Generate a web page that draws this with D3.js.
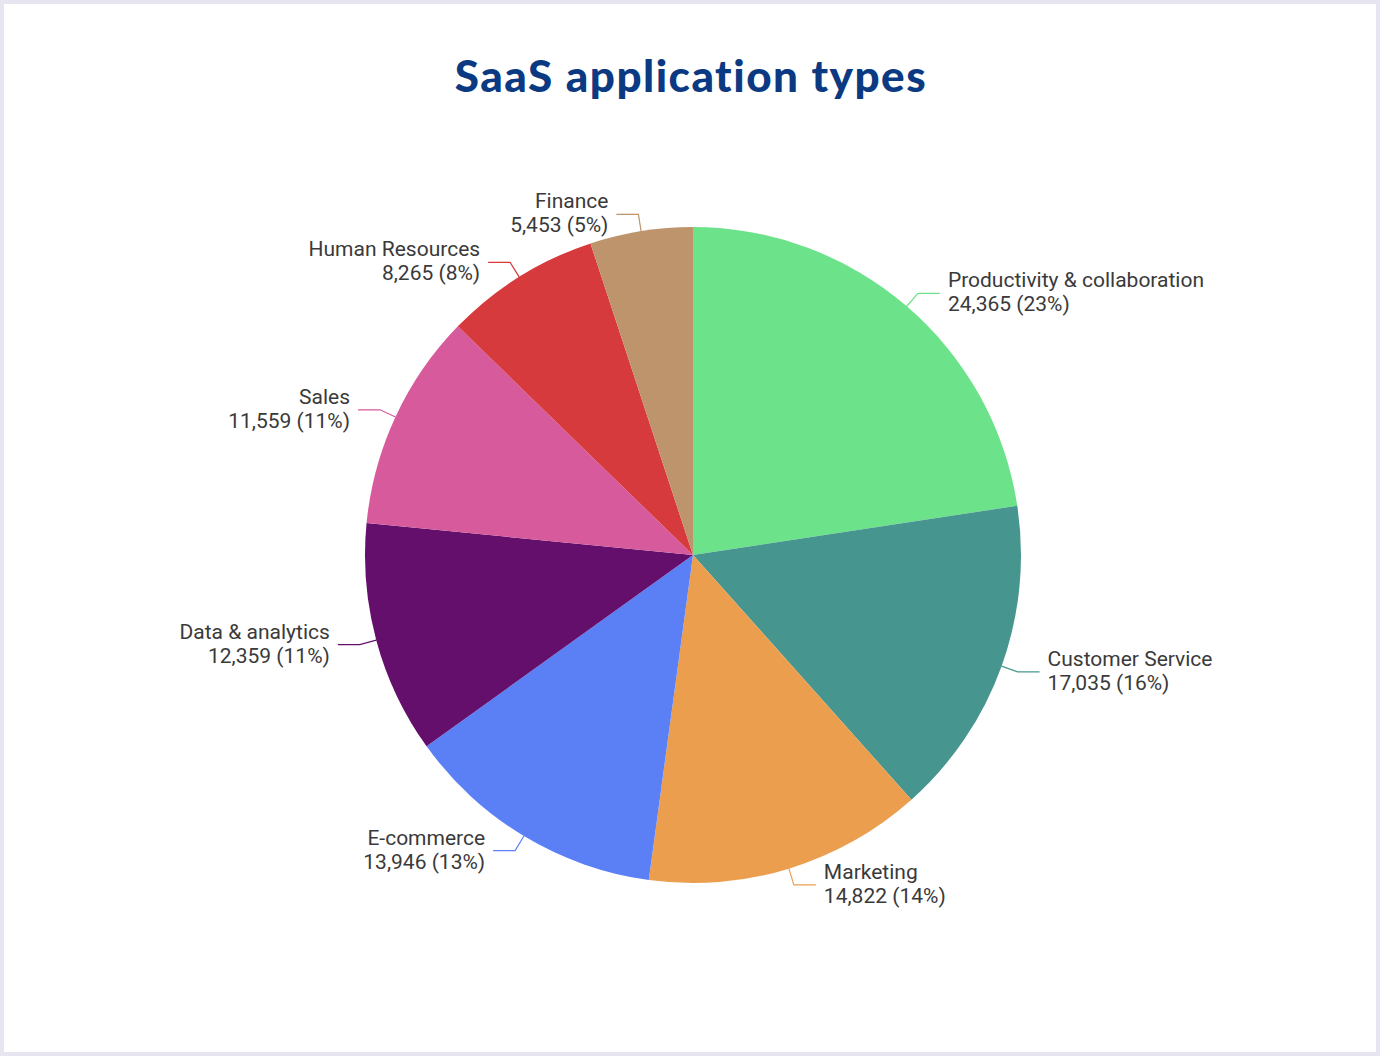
<!DOCTYPE html>
<html>
<head>
<meta charset="utf-8">
<script src="https://cdn.jsdelivr.net/npm/d3@7"></script>
<style>
    html, body { margin: 0; padding: 0; background: #ffffff; }
    #target {
        width: 1380px;
        height: 1056px;
        box-sizing: border-box;
        border: 4px solid #e6e5f0;
        background: #ffffff;
    }
    svg { display: block; }
</style>
</head>
<body>
<div id="target"></div>
<script>
const categories = [
    'Productivity & collaboration',
    'Customer Service',
    'Marketing',
    'E-commerce',
    'Data & analytics',
    'Sales',
    'Human Resources',
    'Finance'
]
const values = [24365, 17035, 14822, 13946, 12359, 11559, 8265, 5453]
const sliceColors = ['#6ce38a', '#46968f', '#eb9f4e', '#5b7ff5', '#650f6d', '#d65a9c', '#d63a3c', '#bd946b']

const colors = {
    title: '#0b3a82',
    text: '#3a3a3a'
}

const width = 1372
const height = 1048
const cx = 689
const cy = 551
const radius = 328

const pieData = categories.map((name, i) => ({ name, value: values[i], color: sliceColors[i] }))
const total = d3.sum(values)
const formatNumber = d3.format(',')

const svg = d3.select('#target').append('svg')
    .attr('width', width)
    .attr('height', height)

//Title
svg.append('text')
    .attr('x', width / 2 + 1)
    .attr('y', 88)
    .attr('text-anchor', 'middle')
    .attr('font-family', 'Lato, "Open Sans", sans-serif')
    .attr('font-weight', 900)
    .attr('font-size', 44)
    .attr('letter-spacing', 1.5)
    .attr('fill', colors.title)
    .text('SaaS application types')

//Pie
const pie = d3.pie()
    .sort(null)
    .value(d => d.value)

const arc = d3.arc()
    .innerRadius(0)
    .outerRadius(radius)

const pieChart = svg.append('g')
    .attr('transform', `translate(${cx},${cy})`)

const arcs = pie(pieData)

pieChart.selectAll('path.slice')
    .data(arcs)
    .enter()
    .append('path')
    .attr('class', 'slice')
    .attr('d', arc)
    .attr('fill', d => d.data.color)

//Leader lines
const edgeArc = d3.arc().innerRadius(radius).outerRadius(radius)
const elbowArc = d3.arc().innerRadius(radius + 17).outerRadius(radius + 17)
const isRight = d => (d.startAngle + d.endAngle) / 2 < Math.PI

pieChart.selectAll('polyline')
    .data(arcs)
    .enter()
    .append('polyline')
    .attr('points', d => {
        const a = edgeArc.centroid(d)
        const b = elbowArc.centroid(d)
        const c = [b[0] + (isRight(d) ? 22 : -22), b[1]]
        return [a, b, c].map(p => p.join(',')).join(' ')
    })
    .attr('fill', 'none')
    .attr('stroke', d => d.data.color)
    .attr('stroke-width', 1.2)

//Labels
const labels = pieChart.selectAll('text.label')
    .data(arcs)
    .enter()
    .append('text')
    .attr('class', 'label')
    .attr('font-family', 'Roboto, sans-serif')
    .attr('font-size', 21)
    .attr('fill', colors.text)
    .attr('text-anchor', d => isRight(d) ? 'start' : 'end')
    .attr('transform', d => {
        const b = elbowArc.centroid(d)
        return `translate(${b[0] + (isRight(d) ? 30 : -30)},${b[1]})`
    })

labels.append('tspan')
    .attr('x', 0)
    .attr('y', -6)
    .text(d => d.data.name)

labels.append('tspan')
    .attr('x', 0)
    .attr('y', 18)
    .text(d => `${formatNumber(d.data.value)} (${Math.round(d.data.value / total * 100)}%)`)
</script>
</body>
</html>
